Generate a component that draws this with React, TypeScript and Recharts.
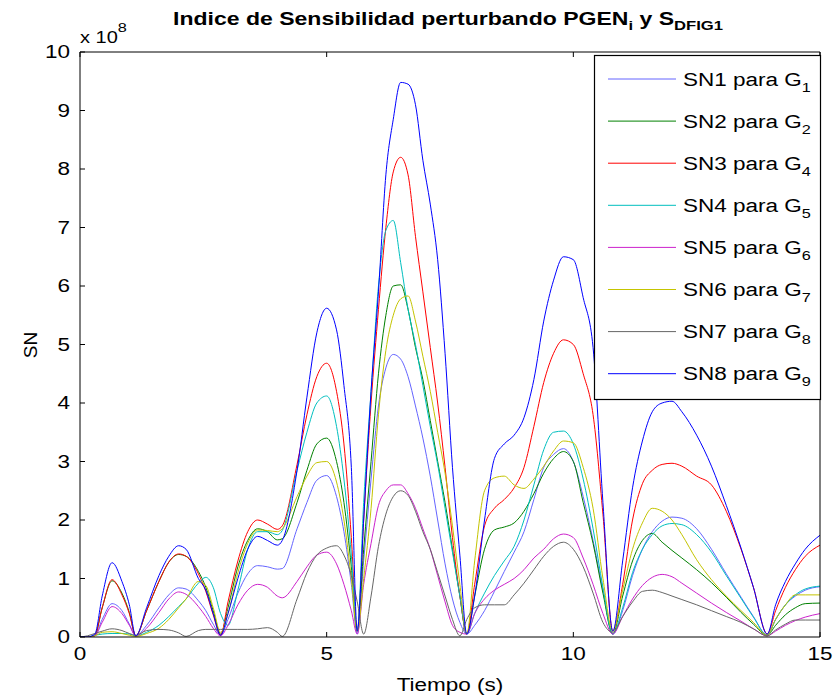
import { Line, LineChart, XAxis, YAxis } from "recharts";

// tiempo (s)
const time = [
  0, 0.15, 0.3, 0.45, 0.65, 0.85, 1.0, 1.13,
  1.35, 1.6, 1.8, 2.0, 2.15, 2.4, 2.55, 2.7, 2.85,
  3.0, 3.2, 3.4, 3.6, 3.8, 4.0, 4.1, 4.4, 4.6, 4.8, 5.0, 5.2, 5.35, 5.5, 5.62,
  5.75, 5.9, 6.05, 6.2, 6.35, 6.5, 6.65, 6.8, 6.95, 7.1, 7.25, 7.4, 7.55, 7.7, 7.84,
  8.0, 8.2, 8.4, 8.6, 8.8, 9.0, 9.2, 9.4, 9.6, 9.8, 10.0, 10.2, 10.4, 10.6, 10.8,
  11.0, 11.2, 11.4, 11.6, 11.8, 12.0, 12.2, 12.5, 12.8, 13.1, 13.4, 13.65, 13.93,
  14.1, 14.3, 14.5, 14.7, 15.0,
];

// SN values, in units of 1e8
const sn1 = [
  0, 0, 0.02, 0.3, 0.57, 0.45, 0.22, 0.02,
  0.2, 0.5, 0.72, 0.84, 0.82, 0.62, 0.45, 0.22, 0.03,
  0.3, 0.75, 1.08, 1.22, 1.2, 1.16, 1.17, 1.85, 2.3, 2.68, 2.76, 2.4, 1.8, 0.9, 0.05,
  1.3, 2.7, 3.95, 4.6, 4.83, 4.75, 4.45, 3.95, 3.4, 2.75, 2.0, 1.25, 0.65, 0.25, 0.05,
  0.2, 0.45, 0.78, 1.12, 1.45, 1.8, 2.35, 2.9, 3.12, 3.22, 3.0, 2.4, 1.65, 0.8, 0.05,
  0.45, 1.05, 1.5, 1.8, 1.98, 2.05, 2.03, 1.85, 1.5, 1.08, 0.68, 0.35, 0.03,
  0.3, 0.55, 0.7, 0.8, 0.86,
];
const sn2 = [
  0, 0, 0.03, 0.5, 0.96, 0.75, 0.42, 0.02,
  0.45, 0.95, 1.28, 1.41, 1.38, 1.12, 0.85, 0.45, 0.05,
  0.5, 1.2, 1.65, 1.85, 1.8, 1.66, 1.68, 2.3, 2.85, 3.3, 3.4, 3.0, 2.3, 1.2, 0.1,
  1.5, 3.0, 4.5, 5.5, 6.0, 6.02, 5.6, 4.95, 4.4, 3.7, 3.0, 2.3, 1.5, 0.7, 0.05,
  0.7, 1.5, 1.83, 1.88, 1.95, 2.15, 2.45, 2.8, 3.05, 3.17, 3.0, 2.3, 1.6, 0.75, 0.05,
  0.7, 1.3, 1.65, 1.77, 1.62, 1.48, 1.35, 1.15, 0.93, 0.68, 0.42, 0.22, 0.03,
  0.2, 0.38, 0.5, 0.57, 0.58,
];
const sn3 = [
  0, 0, 0.03, 0.5, 0.98, 0.72, 0.4, 0.02,
  0.45, 0.95, 1.28, 1.42, 1.38, 1.08, 0.78, 0.38, 0.03,
  0.6, 1.3, 1.8, 2.0, 1.93, 1.84, 1.9, 2.95, 3.8, 4.45, 4.68, 4.2, 3.3, 1.7, 0.1,
  2.0, 4.0, 5.6, 7.0, 7.95, 8.2, 7.9, 6.85, 5.9, 4.95, 4.0, 2.9, 1.7, 0.7, 0.05,
  0.9, 1.9, 2.2, 2.35, 2.55, 2.9, 3.6, 4.35, 4.85, 5.08, 5.0, 4.5, 3.8, 2.1, 0.1,
  0.9, 2.0, 2.62, 2.85, 2.95, 2.97, 2.92, 2.75, 2.6, 2.15, 1.5, 0.85, 0.05,
  0.45, 0.85, 1.15, 1.38, 1.57,
];
const sn4 = [
  0, 0, 0.03, 0.05, 0.06, 0.06, 0.05, 0.02,
  0.08, 0.2, 0.35, 0.52, 0.65, 0.92, 1.02, 0.85, 0.4,
  0.2, 0.8, 1.5, 1.8, 1.8, 1.75, 1.82, 2.85, 3.5, 4.0, 4.12, 3.6, 2.7, 1.4, 0.1,
  2.3, 4.2, 6.0, 6.95, 7.12, 6.4, 5.6, 5.0, 4.3, 3.6, 2.95, 2.2, 1.45, 0.7, 0.05,
  0.4, 0.75, 1.05, 1.3, 1.55, 2.0, 2.6, 3.2, 3.5, 3.52, 3.3, 2.7, 1.85, 0.85, 0.05,
  0.5, 1.1, 1.5, 1.75, 1.9, 1.94, 1.92, 1.75, 1.45, 1.05, 0.66, 0.34, 0.03,
  0.3, 0.55, 0.72, 0.82, 0.87,
];
const sn5 = [
  0, 0, 0.02, 0.25, 0.52, 0.4, 0.2, 0.02,
  0.15, 0.42, 0.65, 0.77, 0.73, 0.52, 0.35, 0.15, 0.02,
  0.2, 0.55, 0.8, 0.9, 0.85, 0.7, 0.67, 0.95, 1.2, 1.4, 1.45, 1.25, 0.9, 0.45, 0.05,
  0.9, 1.6, 2.25, 2.5, 2.6, 2.6, 2.45, 2.2, 1.85, 1.5, 1.05, 0.6, 0.2, 0.08, 0.05,
  0.4, 0.65, 0.8, 0.9, 1.0, 1.15, 1.35, 1.5, 1.68, 1.76, 1.7, 1.35, 0.9, 0.4, 0.05,
  0.35, 0.65, 0.88, 1.02, 1.07, 1.03, 0.92, 0.75, 0.58, 0.42, 0.27, 0.14, 0.02,
  0.1, 0.2, 0.28, 0.34, 0.4,
];
const sn6 = [
  0, 0, 0.02, 0.08, 0.09, 0.06, 0.03, 0.01,
  0.06, 0.15, 0.3, 0.5, 0.65, 0.95, 0.88, 0.5, 0.08,
  0.4, 1.1, 1.6, 1.83, 1.82, 1.8, 1.85, 2.4, 2.75, 2.98, 3.0, 2.65, 2.0, 1.0, 0.1,
  1.0, 2.2, 3.8, 4.9, 5.5, 5.78, 5.83, 5.4, 4.8, 4.2, 3.5, 2.8, 1.9, 0.9, 0.05,
  1.3, 2.5, 2.72, 2.75, 2.6, 2.54, 2.7, 2.92, 3.18, 3.35, 3.32, 2.9, 2.2, 1.0, 0.1,
  0.8, 1.5, 1.95, 2.2, 2.15, 2.0, 1.75, 1.32, 0.98, 0.7, 0.45, 0.25, 0.03,
  0.3, 0.55, 0.72, 0.72, 0.72,
];
const sn7 = [
  0, 0.02, 0.06, 0.1, 0.14, 0.11, 0.06, 0.03,
  0.11, 0.13, 0.12, 0.07, 0.01, 0.11, 0.13, 0.13, 0.13,
  0.13, 0.13, 0.13, 0.14, 0.16, 0.08, 0.01, 0.65, 1.1, 1.4, 1.52, 1.56, 1.4, 1.05, 0.6,
  0.05, 0.7, 1.55, 2.1, 2.4, 2.5, 2.42, 2.15, 1.8, 1.5, 1.1, 0.7, 0.3, 0.02, 0.3,
  0.5, 0.55, 0.55, 0.55, 0.72, 0.92, 1.15, 1.38, 1.55, 1.62, 1.5, 1.2, 0.75, 0.25, 0.08,
  0.35, 0.6, 0.78, 0.8, 0.76, 0.7, 0.64, 0.55, 0.45, 0.35, 0.25, 0.14, 0.02,
  0.12, 0.22, 0.29, 0.29, 0.29,
];
const sn8 = [
  0, 0, 0.05, 0.7, 1.27, 0.95, 0.55, 0.02,
  0.5, 1.05, 1.38, 1.56, 1.5, 1.0, 0.8, 0.4, 0.03,
  0.4, 1.0, 1.5, 1.72, 1.65, 1.57, 1.65, 2.85, 4.1, 5.2, 5.62, 5.25, 4.3, 2.9, 0.1,
  2.0, 4.2, 5.9, 7.9, 8.85, 9.48, 9.45, 9.1, 8.15, 7.4, 6.45, 4.85, 2.9, 1.4, 0.05,
  0.7, 2.0, 3.05, 3.3, 3.45, 3.75, 4.4, 5.4, 6.1, 6.5, 6.45, 5.8, 4.95, 2.3, 0.1,
  1.3, 2.55, 3.35, 3.85, 4.0, 4.03, 3.85, 3.45, 2.92, 2.25, 1.52, 0.85, 0.05,
  0.55, 0.95, 1.25, 1.5, 1.74,
];

const xTicks = [0, 5, 10, 15];
const yTicks = [0, 1, 2, 3, 4, 5, 6, 7, 8, 9, 10];

const series = [
  { key: "sn1", name: "SN1 para G", sub: "1", color: "#6464ff", values: sn1 },
  { key: "sn2", name: "SN2 para G", sub: "2", color: "#008000", values: sn2 },
  { key: "sn3", name: "SN3 para G", sub: "4", color: "#ff0000", values: sn3 },
  { key: "sn4", name: "SN4 para G", sub: "5", color: "#00bfbf", values: sn4 },
  { key: "sn5", name: "SN5 para G", sub: "6", color: "#cc22cc", values: sn5 },
  { key: "sn6", name: "SN6 para G", sub: "7", color: "#c4c400", values: sn6 },
  { key: "sn7", name: "SN7 para G", sub: "8", color: "#666666", values: sn7 },
  { key: "sn8", name: "SN8 para G", sub: "9", color: "#0000ff", values: sn8 },
];

const data = time.map((t, i) => {
  const row: Record<string, number> = { t };
  series.forEach((s) => (row[s.key] = s.values[i]));
  return row;
});

const FONT = '"Liberation Sans", Arial, sans-serif';
// the reference is a bit stretched sideways
const SX = 1.25;
const TICK_LEN = 5;
const LABEL_GAP = 10;

// matlab style: tick marks point into the plot box
function LeftTick(props: any) {
  const { x, y, payload } = props;
  const ax = x + LABEL_GAP;
  return (
    <g>
      <line x1={ax} x2={ax + TICK_LEN} y1={y} y2={y} stroke="#000" />
      <g transform={`translate(${x},${y}) scale(${SX},1)`}>
        <text textAnchor="end" dy="0.35em" fontSize={18} fill="#000" fontFamily={FONT}>
          {payload.value}
        </text>
      </g>
    </g>
  );
}

function BottomTick(props: any) {
  const { x, y, payload } = props;
  const ay = y - LABEL_GAP;
  return (
    <g>
      <line x1={x} x2={x} y1={ay} y2={ay - TICK_LEN} stroke="#000" />
      <g transform={`translate(${x},${y}) scale(${SX},1)`}>
        <text textAnchor="middle" dy="0.71em" fontSize={18} fill="#000" fontFamily={FONT}>
          {payload.value}
        </text>
      </g>
    </g>
  );
}

function TopTick(props: any) {
  const { x, y } = props;
  return <line x1={x} x2={x} y1={y} y2={y + TICK_LEN} stroke="#000" />;
}

function RightTick(props: any) {
  const { x, y } = props;
  return <line x1={x - TICK_LEN} x2={x} y1={y} y2={y} stroke="#000" />;
}

export default function App() {
  return (
    <div style={{ position: "relative", width: 835, height: 700, background: "#fff" }}>
      <style>{`body{margin:0;overflow:hidden;}`}</style>
      <LineChart
        width={835}
        height={700}
        data={data}
        margin={{ top: 51, right: 14, bottom: 0, left: 0 }}
      >
        <XAxis
          dataKey="t"
          type="number"
          domain={[0, 15]}
          ticks={xTicks}
          height={63}
          tickLine={false}
          tickSize={0}
          tickMargin={LABEL_GAP}
          stroke="#000"
          tick={<BottomTick />}
          allowDataOverflow
        />
        <XAxis
          xAxisId="top"
          dataKey="t"
          type="number"
          orientation="top"
          domain={[0, 15]}
          ticks={xTicks}
          height={1}
          tickLine={false}
          tickSize={0}
          tickMargin={0}
          stroke="#000"
          tick={<TopTick />}
        />
        <YAxis
          type="number"
          domain={[0, 10]}
          ticks={yTicks}
          width={80}
          tickLine={false}
          tickSize={0}
          tickMargin={LABEL_GAP}
          stroke="#000"
          tick={<LeftTick />}
          allowDataOverflow
        />
        <YAxis
          yAxisId="r"
          orientation="right"
          type="number"
          domain={[0, 10]}
          ticks={yTicks}
          width={1}
          tickLine={false}
          tickSize={0}
          tickMargin={0}
          stroke="#000"
          tick={<RightTick />}
        />
        {series.map((s) => (
          <Line
            key={s.key}
            dataKey={s.key}
            type="monotone"
            stroke={s.color}
            strokeWidth={1}
            dot={false}
            isAnimationActive={false}
          />
        ))}
      </LineChart>

      <svg
        width={835}
        height={700}
        style={{ position: "absolute", left: 0, top: 0, pointerEvents: "none" }}
        fontFamily={FONT}
      >
        <g transform={`translate(448,25) scale(1.28,1)`}>
          <text textAnchor="middle" fontWeight="bold" fontSize={18} fill="#000">
            Indice de Sensibilidad perturbando PGEN
            <tspan fontSize={13} dy={5}>i</tspan>
            <tspan dy={-5}> y S</tspan>
            <tspan fontSize={13} dy={5}>DFIG1</tspan>
          </text>
        </g>
        <g transform={`translate(80,43) scale(${SX},1)`}>
          <text fontSize={16} fill="#000">
            x 10
            <tspan fontSize={13} dy={-11}>8</tspan>
          </text>
        </g>
        <g transform={`translate(450,691) scale(${SX},1)`}>
          <text textAnchor="middle" fontSize={18} fill="#000">
            Tiempo (s)
          </text>
        </g>
        <text transform="translate(37,345) rotate(-90)" textAnchor="middle" fontSize={19} fill="#000">
          SN
        </text>

        <rect x={594.5} y={55.5} width={226} height={344} fill="#fff" stroke="#000" strokeWidth={1.2} />
        {series.map((s, i) => {
          const y = 79 + i * 42.1;
          return (
            <g key={s.key}>
              <line x1={608} x2={676} y1={y} y2={y} stroke={s.color} strokeWidth={1} />
              <g transform={`translate(683,${y + 6.5}) scale(${SX},1)`}>
                <text fontSize={18} fill="#000">
                  {s.name}
                  <tspan fontSize={13} dy={6}>{s.sub}</tspan>
                </text>
              </g>
            </g>
          );
        })}
      </svg>
    </div>
  );
}
